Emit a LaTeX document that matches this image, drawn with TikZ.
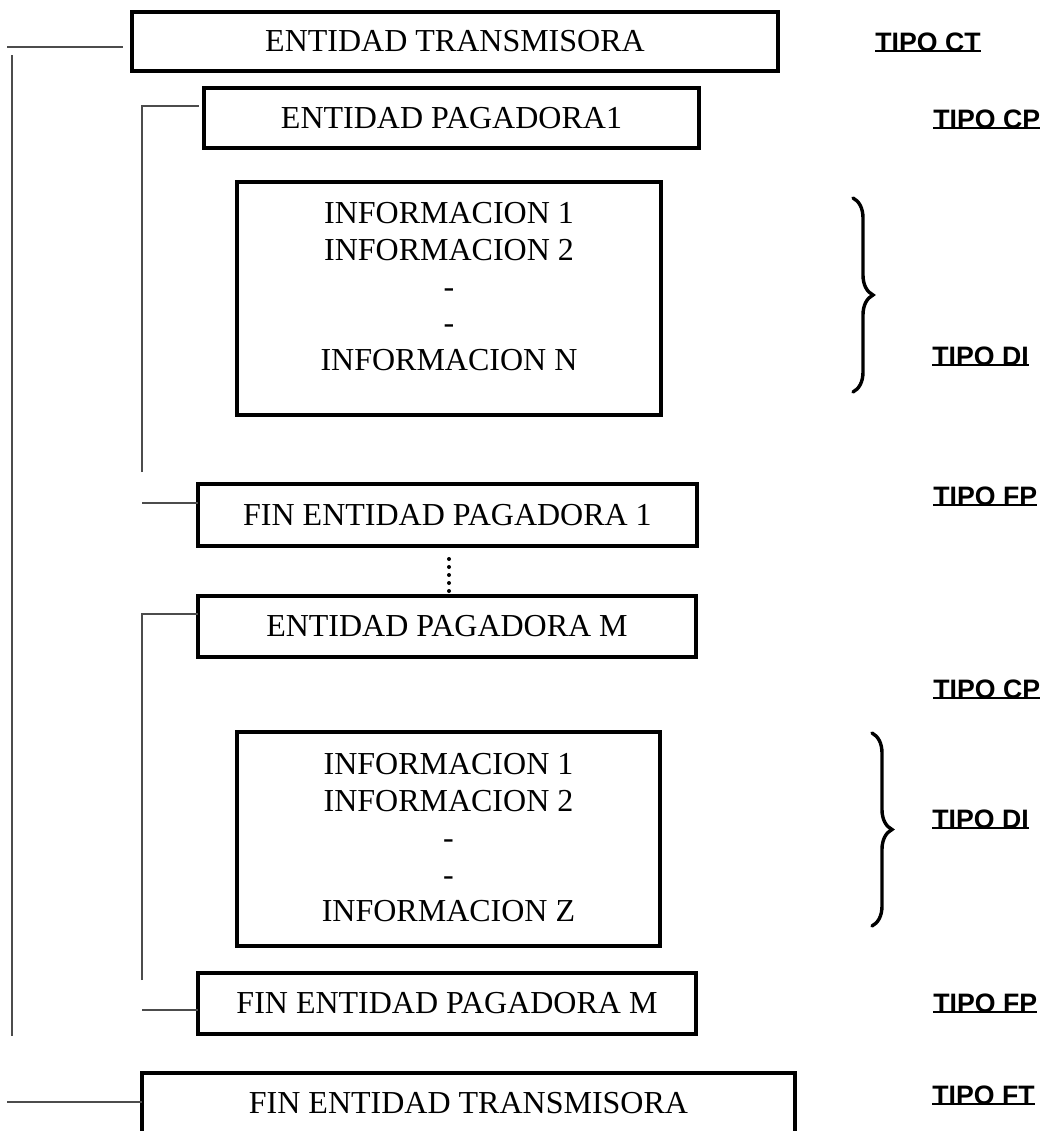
\documentclass[tikz,border=0pt]{standalone}
\usepackage{fontspec}
\setmainfont{Liberation Serif}
\newfontfamily\tipofont{Liberation Sans}
\usepackage{tikz}
\usetikzlibrary{decorations.pathreplacing, positioning}

\begin{document}
\begin{tikzpicture}[x=0.5pt, y=-0.5pt,
   box/.style={draw, line width=1.8pt, inner sep=0pt, outer sep=0pt,
               font=\fontsize{16}{18.4}\selectfont},
   infotext/.style={align=center, inner sep=0pt, font=\fontsize{16}{18.4}\selectfont},
   tipo/.style={anchor=base west, inner sep=0pt,
                font=\tipofont\bfseries\fontsize{13.33}{16}\selectfont},
   subrayado/.style={line width=1.4pt, yshift=-2.7pt},
   conn/.style={draw=black!70, line width=0.6pt},
   llave/.style={decorate, decoration={brace, amplitude=10pt}, line width=1.7pt, line cap=round}]
%
\useasboundingbox (0,0) rectangle (1047,1131);

\node[box, minimum width=323pt, minimum height=29.5pt] (et) at (455,41.5) {ENTIDAD TRANSMISORA};
\node[box, minimum width=247.5pt, minimum height=30pt] (ep1) at (451.5,118) {ENTIDAD PAGADORA1};
\node[box, minimum width=212pt, minimum height=116.5pt] (info1) at (449,298.5) {};
\node[infotext, below=10pt of info1.north] (txt1) {INFORMACION 1\\INFORMACION 2\\-\\-\\INFORMACION N};
\node[box, minimum width=249.5pt, minimum height=31pt] (fep1) at (447.5,515) {FIN ENTIDAD PAGADORA 1};
\node[box, minimum width=249pt, minimum height=30.5pt] (epm) at (447,626.5) {ENTIDAD PAGADORA M};
\node[box, minimum width=211.5pt, minimum height=107pt] (info2) at (448.5,839) {};
\node[infotext, below=10.5pt of info2.north] (txt2) {INFORMACION 1\\INFORMACION 2\\-\\-\\INFORMACION Z};
\node[box, minimum width=249pt, minimum height=30.5pt] (fepm) at (447,1003.5) {FIN ENTIDAD PAGADORA M};
\node[box, minimum width=326.5pt, minimum height=30.5pt] (fet) at (468.5,1103.5) {FIN ENTIDAD TRANSMISORA};

\node[tipo] (tct) at (875,51) {TIPO CT};
\node[tipo] (tcp1) at (933,128) {TIPO CP};
\node[tipo] (tdi1) at (932,365) {TIPO DI};
\node[tipo] (tfp1) at (933,505) {TIPO FP};
\node[tipo] (tcp2) at (933,698) {TIPO CP};
\node[tipo] (tdi2) at (932,828) {TIPO DI};
\node[tipo] (tfp2) at (933,1012) {TIPO FP};
\node[tipo] (tft) at (932,1104) {TIPO FT};

\draw[subrayado] (tct.base west) -- (tct.base east);
\draw[subrayado] (tcp1.base west) -- (tcp1.base east);
\draw[subrayado] (tdi1.base west) -- (tdi1.base east);
\draw[subrayado] (tfp1.base west) -- (tfp1.base east);
\draw[subrayado] (tcp2.base west) -- (tcp2.base east);
\draw[subrayado] (tdi2.base west) -- (tdi2.base east);
\draw[subrayado] (tfp2.base west) -- (tfp2.base east);
\draw[subrayado] (tft.base west) -- (tft.base east);

\coordinate (a0) at (7,47);
\coordinate (lt) at (12,55);
\coordinate (lb) at (12,1036);
\coordinate (b0) at (142,106);
\coordinate (b1) at (142,472);
\coordinate (c0) at (142,503);
\coordinate (d0) at (142,614);
\coordinate (d1) at (142,980);
\coordinate (e0) at (142,1010);
\coordinate (f0) at (7,1102);

\draw[conn, shorten >=4.5pt] (a0) -- (et.west |- a0);
\draw[conn] (lt) -- (lb);
\draw[conn, shorten >=2.5pt] (b1) -- (b0) -- (ep1.west |- b0);
\draw[conn] (c0) -- (fep1.west |- c0);
\draw[conn] (d1) -- (d0) -- (epm.west |- d0);
\draw[conn] (e0) -- (fepm.west |- e0);
\draw[conn] (f0) -- (fet.west |- f0);

\draw[line width=2pt, line cap=round, dash pattern=on 0pt off 4pt,
      shorten <=6.5pt, shorten >=2.5pt] ([xshift=0.75pt]fep1.south) -- ([xshift=1pt]epm.north);

\draw[llave] (853,198) -- (853,392);
\draw[llave] (872,733) -- (872,926);
%
\end{tikzpicture}
\end{document}
